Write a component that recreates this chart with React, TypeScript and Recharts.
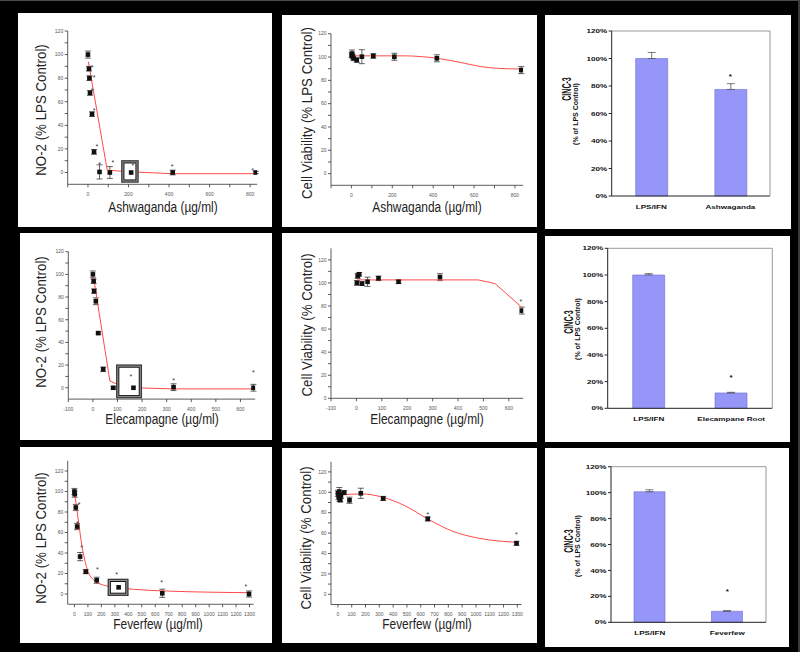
import React from 'react';
import { ScatterChart, Scatter, XAxis, YAxis, ErrorBar, ComposedChart, Bar, ReferenceLine } from 'recharts';

// ===================== DATA =====================
// --- Ashwaganda ---
const ashNoConc = [0, 5, 7, 10, 20, 30, 57, 108, 213, 418, 828];
const ashNoValue = [100, 88, 80, 67.5, 49.5, 17.5, 0.5, 0, 0, 0, 0];
const ashNoErr = [3, 2, 2, 2, 2, 2, 6, 5, 4, 2, 1];
const ashNoFitConc = [2, 95, 213, 418, 828];
const ashNoFitValue = [94, 2, 0.5, -1, -1];
const ashNoStarConc = [21, 30, 21, 30, 44, 57, 123, 221, 415, 813];
const ashNoStarValue = [90, 81, 70, 53, 23, 7, 8.8, 6.2, 6, 2];
const ashNoMark = [207, 0.9];

const ashCvConc = [1, 3, 6, 10, 26, 51, 107, 210, 418, 831];
const ashCvValue = [101.7, 103, 100.5, 98.9, 97.4, 100.3, 100.9, 100.2, 98.9, 88.8];
const ashCvErr = [2, 3, 2, 2, 2, 6, 2, 3, 3, 3];
const ashCvFitConc = [5, 259, 330, 418, 554, 636, 718, 831];
const ashCvFitValue = [101, 101, 100.5, 99, 94.6, 91.7, 90.3, 89.7];

const ashCincCats = ['LPS/IFN', 'Ashwaganda'];
const ashCincValue = [100, 77.5];
const ashCincErr = [4.4, 4.2];
const ashCincStar = [null, 88];

// --- Elecampagne ---
const eleNoConc = [0, 3, 5, 12, 22, 42, 83, 165, 328, 653];
const eleNoValue = [100, 94, 85.2, 76.3, 48.2, 16.3, 0, 0, 0.5, 0];
const eleNoErr = [3, 2, 2, 3, 1, 2, 1, 3, 3, 3];
const eleNoFitConc = [3, 69, 100, 165, 328, 653];
const eleNoFitValue = [97, 6, 3, 0, -1, -1];
const eleNoStarConc = [154, 328, 653];
const eleNoStarValue = [10.6, 6.8, 14.2];
const eleNoMark = [147, 5.6];

const eleCvConc = [2, 5, 11, 22, 44, 87, 166, 329, 651];
const eleCvValue = [100, 106, 107.5, 99.4, 101, 104, 101, 105, 76];
const eleCvErr = [2, 2, 1.5, 1.5, 4, 2, 1.5, 3, 3];
const eleCvFitConc = [3, 480, 546, 651];
const eleCvFitValue = [102.6, 102.6, 99.4, 78.8];
const eleCvStarConc = [647];
const eleCvStarValue = [84.6];

const eleCincCats = ['LPS/IFN', 'Elecampane Root'];
const eleCincValue = [100, 11.5];
const eleCincErr = [1, 0.5];
const eleCincStar = [null, 24];

// --- Feverfew ---
const fevNoConc = [0, 2, 10, 20, 42, 84, 165, 328, 652, 1296];
const fevNoValue = [100, 97.4, 84.4, 65.8, 36.5, 21.8, 13.4, 6.5, 0.7, 0];
const fevNoErr = [3, 3, 3, 3, 4, 2, 3, 2, 4, 3];
const fevNoFitConc = [0, 25, 57, 89, 143, 242, 440, 686, 1291];
const fevNoFitValue = [100, 75.6, 46, 26.7, 13.7, 7.8, 4.6, 2.9, 1.3];
const fevNoStarConc = [35, 22, 54, 170, 314, 647, 1272];
const fevNoStarValue = [88, 69.7, 46, 24.8, 19.5, 12, 7.8];
const fevNoMark = [324, 6.5];

const fevCvConc = [0, 5, 10, 12, 17, 22, 46, 84, 166, 328, 651, 1294];
const fevCvValue = [99, 95.8, 100.7, 94, 92.5, 97, 99.7, 92.2, 99, 94, 73.9, 50];
const fevCvErr = [3, 3, 4, 3, 2, 3, 2, 3, 5, 2, 2, 2];
const fevCvFitConc = [0, 176, 328, 489, 651, 827, 1019, 1294];
const fevCvFitValue = [97.4, 98.4, 95, 86.6, 73.9, 62, 55, 51];
const fevCvStarConc = [651, 1292];
const fevCvStarValue = [79.4, 59];

const fevCincCats = ['LPS/IFN', 'Feverfew'];
const fevCincValue = [100.7, 8.5];
const fevCincErr = [1.5, 0.5];
const fevCincStar = [null, 24.7];

// --- Ticks ---
const yTicksMinor = [0, 10, 20, 30, 40, 50, 60, 70, 80, 90, 100, 110, 120];
const yTickLabels = [0, 20, 40, 60, 80, 100, 120];
const ashXTicks = [-100, 0, 100, 200, 300, 400, 500, 600, 700, 800];
const ashXLabels = [0, 200, 400, 600, 800];
const eleXTicks = [-100, 0, 100, 200, 300, 400, 500, 600];
const fevXTicks = [0, 100, 200, 300, 400, 500, 600, 700, 800, 900, 1000, 1100, 1200, 1300];
const pctTicks = [0, 20, 40, 60, 80, 100, 120];

// ===================== HELPERS =====================
const FONT = 'Arial, "Liberation Sans", sans-serif';
type XY = { x: number; y: number; e: number };
const zip = (xs: number[], ys: number[], es?: number[]): XY[] =>
  xs.map((x, i) => ({ x, y: ys[i], e: es ? es[i] : 0 }));

const Nothing = () => <g />;
const Square = (props: any) => {
  const { cx, cy } = props;
  if (!Number.isFinite(cx) || !Number.isFinite(cy)) return <g />;
  return <rect x={cx - 2.3} y={cy - 2.3} width={4.6} height={4.6} fill="#111" />;
};
const StarShape = (props: any) => {
  const { cx, cy } = props;
  if (!Number.isFinite(cx) || !Number.isFinite(cy)) return <g />;
  return (
    <text x={cx} y={cy + 3.2} fontSize={7} textAnchor="middle" fill="#333" fontFamily={FONT}>
      *
    </text>
  );
};
const markShape = (w: number, h: number) => (props: any) => {
  const { cx, cy } = props;
  if (!Number.isFinite(cx) || !Number.isFinite(cy)) return <g />;
  return (
    <g>
      <rect x={cx - w / 2} y={cy - h / 2} width={w} height={h} fill="#3a3a3a" />
      <rect x={cx - w / 2 + 1.3} y={cy - h / 2 + 1.3} width={w - 2.6} height={h - 2.6} fill="#9a9a9a" />
      <rect x={cx - w / 2 + 2.8} y={cy - h / 2 + 2.8} width={w - 5.6} height={h - 5.6} fill="#fff" stroke="#111" strokeWidth={1} />
    </g>
  );
};

function HTitle({ x, y, text }: any) {
  return (
    <div
      style={{
        position: 'absolute', left: x, top: y, transform: 'translate(-50%,-50%) scaleX(0.85)',
        fontSize: 14, lineHeight: '14px', whiteSpace: 'nowrap', color: '#222', fontFamily: FONT,
      }}
    >
      {text}
    </div>
  );
}
function VTitle({ x, y, text, size = 14, weight = 400, sx = 0.95, sy = 1, color = '#222' }: any) {
  return (
    <div
      style={{
        position: 'absolute', left: x, top: y,
        transform: `translate(-50%,-50%) rotate(-90deg) scale(${sx},${sy})`,
        fontSize: size, lineHeight: `${size}px`, fontWeight: weight, whiteSpace: 'nowrap', color, fontFamily: FONT,
      }}
    >
      {text}
    </div>
  );
}

type Box = { l: number; t: number; w: number; h: number };
type Plot = { left: number; top: number; right: number; bottom: number };

function OriginPanel(p: any) {
  const box: Box = p.box;
  const plot: Plot = p.plot;
  const points = zip(p.conc, p.value, p.err);
  const fit = zip(p.fitConc, p.fitValue);
  const stars = p.starConc ? zip(p.starConc, p.starValue) : [];
  const mark = p.mark ? [{ x: p.mark[0], y: p.mark[1], e: 0 }] : null;
  const xLab: number[] = p.xLabels || p.xTicks;
  const axisStyle = { stroke: '#333', strokeWidth: 0.8 };
  return (
    <div style={{ position: 'absolute', left: box.l, top: box.t, width: box.w, height: box.h, background: '#fff' }}>
      <ScatterChart
        width={box.w}
        height={box.h}
        margin={{ top: plot.top, right: box.w - plot.right, left: 0, bottom: 0 }}
      >
        <XAxis
          type="number" dataKey="x" domain={p.xDomain} allowDataOverflow ticks={p.xTicks} interval={0}
          tickFormatter={(v: number) => (xLab.includes(v) ? String(v) : '')}
          height={box.h - plot.bottom} tickSize={3} tickMargin={5}
          axisLine={axisStyle} tickLine={axisStyle}
          tick={{ fontSize: 5, fill: '#555', fontFamily: FONT }}
        />
        <YAxis
          type="number" dataKey="y" domain={p.yDomain} allowDataOverflow ticks={yTicksMinor} interval={0}
          tickFormatter={(v: number) => (yTickLabels.includes(v) ? String(v) : '')}
          width={plot.left} tickSize={3} tickMargin={1.5}
          axisLine={axisStyle} tickLine={axisStyle}
          tick={{ fontSize: 5, fill: '#555', fontFamily: FONT }}
        />
        <Scatter
          data={fit} shape={Nothing} line={{ stroke: '#ff4a4a', strokeWidth: 1 }}
          lineJointType={p.curve || 'linear'} isAnimationActive={false}
        />
        {mark && <Scatter data={mark} shape={markShape(p.markSize[0], p.markSize[1])} isAnimationActive={false} />}
        <Scatter data={points} shape={Square} isAnimationActive={false}>
          <ErrorBar dataKey="e" direction="y" width={3} stroke="#222" strokeWidth={0.7} />
        </Scatter>
        {stars.length > 0 && <Scatter data={stars} shape={StarShape} isAnimationActive={false} />}
      </ScatterChart>
      <VTitle x={p.yTitleAt[0] - box.l} y={p.yTitleAt[1] - box.t} text={p.yTitle} />
      <HTitle x={p.xTitleAt[0] - box.l} y={p.xTitleAt[1] - box.t} text={p.xTitle} />
    </div>
  );
}

const CatTick = (props: any) => {
  const { x, y, payload } = props;
  return (
    <g transform={`translate(${x},${y + 13})`}>
      <text transform="scale(1.35,1)" textAnchor="middle" fontSize={6} fontWeight="bold" fill="#111" fontFamily={FONT}>
        {payload.value}
      </text>
    </g>
  );
};
const PctTick = (props: any) => {
  const { x, y, payload } = props;
  return (
    <g transform={`translate(${x},${y})`}>
      <text transform="scale(1.35,1)" textAnchor="end" dy={2.1} fontSize={6} fontWeight="bold" fill="#111" fontFamily={FONT}>
        {`${payload.value}%`}
      </text>
    </g>
  );
};
const BarStar = (props: any) => {
  const { cx, cy, payload } = props;
  if (!payload || payload.star == null || !Number.isFinite(cx) || !Number.isFinite(cy)) return <g />;
  return (
    <text x={cx} y={cy + 3.5} fontSize={8} fontWeight="bold" textAnchor="middle" fill="#111" fontFamily={FONT}>
      *
    </text>
  );
};

function BarPanel(p: any) {
  const box: Box = p.box;
  const plot: Plot = p.plot;
  const rows = p.cats.map((name: string, i: number) => ({
    name, v: p.values[i], e: p.errs[i], star: p.stars[i],
  }));
  return (
    <div style={{ position: 'absolute', left: box.l, top: box.t, width: box.w, height: box.h, background: '#fff' }}>
      <ComposedChart
        width={box.w}
        height={box.h}
        data={rows}
        margin={{ top: plot.top, right: box.w - plot.right - 1, left: 0, bottom: 0 }}
      >
        <XAxis
          dataKey="name" height={box.h - plot.bottom} tickSize={0} tickMargin={0} tickLine={false}
          axisLine={{ stroke: '#222', strokeWidth: 1 }} interval={0} tick={<CatTick />}
        />
        <YAxis
          width={plot.left} domain={[0, 120]} ticks={pctTicks} interval={0} tickSize={3} tickMargin={1.5}
          axisLine={{ stroke: '#222', strokeWidth: 1 }} tickLine={{ stroke: '#222' }} tick={<PctTick />}
        />
        <YAxis
          yAxisId="frame" orientation="right" width={1} domain={[0, 120]} tick={false} tickLine={false}
          axisLine={{ stroke: '#999', strokeWidth: 1 }}
        />
        <ReferenceLine y={120} stroke="#999" strokeWidth={1} />
        <Bar dataKey="v" barSize={p.barW} fill="#9696f8" stroke="#6c6cd2" strokeWidth={0.6} isAnimationActive={false}>
          <ErrorBar dataKey={(d: any) => [0, d.e]} direction="y" width={4} stroke="#555" strokeWidth={0.8} />
        </Bar>
        <Scatter dataKey="star" shape={BarStar} isAnimationActive={false} />
      </ComposedChart>
      <VTitle x={p.cincAt[0] - box.l} y={p.cincAt[1] - box.t} text="CINC-3" size={9.5} weight={700} sx={0.74} sy={1.3} color="#111" />
      <VTitle x={p.subAt[0] - box.l} y={p.subAt[1] - box.t} text="(% of LPS Control)" size={7} weight={700} sx={1} sy={1.1} color="#111" />
    </div>
  );
}

// ===================== APP =====================
export default function App() {
  return (
    <div
      style={{
        position: 'absolute', left: 0, top: 0, width: 800, height: 652, background: '#000',
        overflow: 'hidden', fontFamily: FONT,
      }}
    >
      <div style={{ position: 'absolute', left: 0, top: 0, width: 800, height: 1, background: '#4a4a4a' }} />
      <div style={{ position: 'absolute', left: 798, top: 0, width: 2, height: 652, background: '#3a3a3a' }} />

      {/* Row 1: Ashwaganda */}
      <OriginPanel
        box={{ l: 18, t: 13, w: 254, h: 214 }}
        plot={{ left: 49.7, top: 18, right: 239.2, bottom: 171.3 }}
        xDomain={[-100, 835]} xTicks={ashXTicks} xLabels={ashXLabels} yDomain={[-10, 120]}
        conc={ashNoConc} value={ashNoValue} err={ashNoErr}
        fitConc={ashNoFitConc} fitValue={ashNoFitValue}
        starConc={ashNoStarConc} starValue={ashNoStarValue}
        mark={ashNoMark} markSize={[17.6, 22.6]}
        yTitle="NO-2 (% LPS Control)" yTitleAt={[41, 110]}
        xTitle="Ashwaganda (µg/ml)" xTitleAt={[162.7, 207]}
      />
      <OriginPanel
        box={{ l: 282, t: 15, w: 255, h: 212 }}
        plot={{ left: 49, top: 18.7, right: 241.1, bottom: 170.3 }}
        xDomain={[-100, 840]} xTicks={ashXTicks} xLabels={ashXLabels} yDomain={[-10, 120]}
        conc={ashCvConc} value={ashCvValue} err={ashCvErr}
        fitConc={ashCvFitConc} fitValue={ashCvFitValue} curve="monotoneX"
        yTitle="Cell Viability  (% LPS Control)" yTitleAt={[306.7, 113]}
        xTitle="Ashwaganda (µg/ml)" xTitleAt={[426.7, 206.7]}
      />
      <BarPanel
        box={{ l: 545, t: 15, w: 246, h: 214 }}
        plot={{ left: 66.7, top: 16, right: 225, bottom: 181 }}
        cats={ashCincCats} values={ashCincValue} errs={ashCincErr} stars={ashCincStar} barW={32}
        cincAt={[566.7, 88.7]} subAt={[575, 114.3]}
      />

      {/* Row 2: Elecampagne */}
      <OriginPanel
        box={{ l: 20, t: 233, w: 252, h: 207 }}
        plot={{ left: 48.3, top: 18.7, right: 235.2, bottom: 166.1 }}
        xDomain={[-100, 660]} xTicks={eleXTicks} yDomain={[-10, 120]}
        conc={eleNoConc} value={eleNoValue} err={eleNoErr}
        fitConc={eleNoFitConc} fitValue={eleNoFitValue}
        starConc={eleNoStarConc} starValue={eleNoStarValue}
        mark={eleNoMark} markSize={[26, 34]}
        yTitle="NO-2 (% LPS Control)" yTitleAt={[41, 321.7]}
        xTitle="Elecampagne (µg/ml)" xTitleAt={[161.7, 419.3]}
      />
      <OriginPanel
        box={{ l: 282, t: 233, w: 255, h: 209 }}
        plot={{ left: 49, top: 15.3, right: 241.3, bottom: 165.3 }}
        xDomain={[-100, 657]} xTicks={eleXTicks} yDomain={[0, 130]}
        conc={eleCvConc} value={eleCvValue} err={eleCvErr}
        fitConc={eleCvFitConc} fitValue={eleCvFitValue}
        starConc={eleCvStarConc} starValue={eleCvStarValue}
        yTitle="Cell Viability (% Control)" yTitleAt={[306.7, 325]}
        xTitle="Elecampagne (µg/ml)" xTitleAt={[427.3, 419.3]}
      />
      <BarPanel
        box={{ l: 545, t: 236, w: 245, h: 206 }}
        plot={{ left: 62.7, top: 12.3, right: 227.3, bottom: 172.3 }}
        cats={eleCincCats} values={eleCincValue} errs={eleCincErr} stars={eleCincStar} barW={32}
        cincAt={[569.3, 322.3]} subAt={[576.7, 329]}
      />

      {/* Row 3: Feverfew */}
      <OriginPanel
        box={{ l: 20, t: 447, w: 252, h: 196 }}
        plot={{ left: 47.7, top: 13.75, right: 233.6, bottom: 157.25 }}
        xDomain={[-50, 1330]} xTicks={fevXTicks} yDomain={[-10, 130]}
        conc={fevNoConc} value={fevNoValue} err={fevNoErr}
        fitConc={fevNoFitConc} fitValue={fevNoFitValue} curve="monotoneX"
        starConc={fevNoStarConc} starValue={fevNoStarValue}
        mark={fevNoMark} markSize={[21, 17.3]}
        yTitle="NO-2 (% LPS Control)" yTitleAt={[41, 538]}
        xTitle="Feverfew (µg/ml)" xTitleAt={[158.3, 624.3]}
      />
      <OriginPanel
        box={{ l: 282, t: 448, w: 255, h: 195 }}
        plot={{ left: 49, top: 13.7, right: 239.5, bottom: 156.5 }}
        xDomain={[-50, 1330]} xTicks={fevXTicks} yDomain={[-10, 130]}
        conc={fevCvConc} value={fevCvValue} err={fevCvErr}
        fitConc={fevCvFitConc} fitValue={fevCvFitValue} curve="monotoneX"
        starConc={fevCvStarConc} starValue={fevCvStarValue}
        yTitle="Cell Viability (% Control)" yTitleAt={[305.7, 537.7]}
        xTitle="Feverfew (µg/ml)" xTitleAt={[427.3, 624.3]}
      />
      <BarPanel
        box={{ l: 545, t: 448, w: 244, h: 199 }}
        plot={{ left: 66, top: 18.7, right: 221, bottom: 174.3 }}
        cats={fevCincCats} values={fevCincValue} errs={fevCincErr} stars={fevCincStar} barW={31}
        cincAt={[569.3, 541]} subAt={[576.7, 546]}
      />
    </div>
  );
}
